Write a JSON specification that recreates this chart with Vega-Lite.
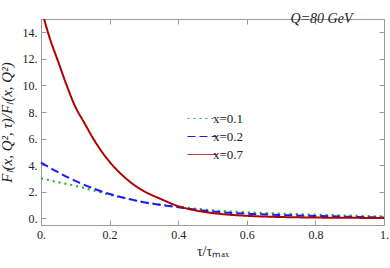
{
  "$schema": "https://vega.github.io/schema/vega-lite/v6.json",
  "autosize": "none",
  "width": 343,
  "height": 206,
  "padding": {"left": 41, "top": 19, "right": 6, "bottom": 43},
  "background": "white",
  "title": {"text": "Q=80 GeV", "anchor": "end", "orient": "top", "offset": -22, "dx": -36, "baseline": "alphabetic", "font": "Liberation Serif", "fontStyle": "italic", "fontWeight": "normal", "fontSize": 14, "color": "#222"},
  "config": {
    "view": {"stroke": null},
    "font": "Liberation Serif",
    "axis": {"grid": false, "domain": true, "domainColor": "#9a9a9a", "domainWidth": 1, "tickColor": "#9a9a9a", "tickWidth": 1, "labelColor": "#222", "labelFont": "Liberation Serif", "labelFontSize": 12, "titleFont": "Liberation Serif", "titleFontWeight": "normal", "titleColor": "#222"}
  },
  "datasets": {
    "curves": [
      {"t": 0.0, "r": 3.02, "series": "x=0.1"},
      {"t": 0.05, "r": 2.72, "series": "x=0.1"},
      {"t": 0.1, "r": 2.45, "series": "x=0.1"},
      {"t": 0.15, "r": 2.12, "series": "x=0.1"},
      {"t": 0.2, "r": 1.77, "series": "x=0.1"},
      {"t": 0.25, "r": 1.48, "series": "x=0.1"},
      {"t": 0.3, "r": 1.22, "series": "x=0.1"},
      {"t": 0.35, "r": 1.04, "series": "x=0.1"},
      {"t": 0.4, "r": 0.88, "series": "x=0.1"},
      {"t": 0.45, "r": 0.73, "series": "x=0.1"},
      {"t": 0.5, "r": 0.61, "series": "x=0.1"},
      {"t": 0.6, "r": 0.46, "series": "x=0.1"},
      {"t": 0.7, "r": 0.36, "series": "x=0.1"},
      {"t": 0.8, "r": 0.28, "series": "x=0.1"},
      {"t": 0.9, "r": 0.21, "series": "x=0.1"},
      {"t": 1.0, "r": 0.15, "series": "x=0.1"},
      {"t": 0.0, "r": 4.2, "series": "x=0.2"},
      {"t": 0.05, "r": 3.47, "series": "x=0.2"},
      {"t": 0.1, "r": 2.82, "series": "x=0.2"},
      {"t": 0.15, "r": 2.28, "series": "x=0.2"},
      {"t": 0.2, "r": 1.83, "series": "x=0.2"},
      {"t": 0.25, "r": 1.5, "series": "x=0.2"},
      {"t": 0.3, "r": 1.21, "series": "x=0.2"},
      {"t": 0.35, "r": 1.0, "series": "x=0.2"},
      {"t": 0.4, "r": 0.83, "series": "x=0.2"},
      {"t": 0.45, "r": 0.66, "series": "x=0.2"},
      {"t": 0.5, "r": 0.52, "series": "x=0.2"},
      {"t": 0.6, "r": 0.35, "series": "x=0.2"},
      {"t": 0.7, "r": 0.25, "series": "x=0.2"},
      {"t": 0.8, "r": 0.18, "series": "x=0.2"},
      {"t": 0.9, "r": 0.12, "series": "x=0.2"},
      {"t": 1.0, "r": 0.07, "series": "x=0.2"},
      {"t": 0.009, "r": 15.0, "series": "x=0.7"},
      {"t": 0.025, "r": 13.6, "series": "x=0.7"},
      {"t": 0.05, "r": 11.8, "series": "x=0.7"},
      {"t": 0.075, "r": 10.0, "series": "x=0.7"},
      {"t": 0.1, "r": 8.4, "series": "x=0.7"},
      {"t": 0.125, "r": 7.25, "series": "x=0.7"},
      {"t": 0.15, "r": 6.1, "series": "x=0.7"},
      {"t": 0.175, "r": 5.1, "series": "x=0.7"},
      {"t": 0.2, "r": 4.25, "series": "x=0.7"},
      {"t": 0.225, "r": 3.55, "series": "x=0.7"},
      {"t": 0.25, "r": 2.95, "series": "x=0.7"},
      {"t": 0.275, "r": 2.45, "series": "x=0.7"},
      {"t": 0.3, "r": 2.05, "series": "x=0.7"},
      {"t": 0.35, "r": 1.45, "series": "x=0.7"},
      {"t": 0.4, "r": 0.92, "series": "x=0.7"},
      {"t": 0.45, "r": 0.6, "series": "x=0.7"},
      {"t": 0.5, "r": 0.4, "series": "x=0.7"},
      {"t": 0.55, "r": 0.27, "series": "x=0.7"},
      {"t": 0.6, "r": 0.19, "series": "x=0.7"},
      {"t": 0.7, "r": 0.1, "series": "x=0.7"},
      {"t": 0.8, "r": 0.06, "series": "x=0.7"},
      {"t": 0.9, "r": 0.04, "series": "x=0.7"},
      {"t": 1.0, "r": 0.03, "series": "x=0.7"}
    ]
  },
  "resolve": {"axis": {"x": "independent", "y": "independent"}},
  "layer": [
    {
      "data": {"name": "curves"},
      "mark": {"type": "line", "strokeWidth": 2, "interpolate": "monotone"},
      "encoding": {
        "x": {"field": "t", "type": "quantitative", "scale": {"domain": [0, 1], "nice": false, "zero": false},
          "axis": {"orient": "bottom", "values": [0, 0.2, 0.4, 0.6, 0.8, 1], "labelExpr": "datum.value == 0 ? '0.' : datum.value == 1 ? '1.' : format(datum.value, '.1f')", "tickSize": -5, "labelPadding": 9, "title": "τ/τₘₐₓ", "titleFontSize": 14, "titlePadding": 4, "labelFlush": false}},
        "y": {"field": "r", "type": "quantitative", "scale": {"domain": [-0.5, 15], "nice": false, "zero": false},
          "axis": {"orient": "left", "values": [0, 2, 4, 6, 8, 10, 12, 14], "labelExpr": "format(datum.value, 'd') + '.'", "tickSize": -5, "labelPadding": 9, "title": "Fₗ(x, Q², τ)/Fₗ(x, Q²)", "titleFontSize": 15, "titleFontStyle": "italic", "titlePadding": 8}},
        "color": {"field": "series", "type": "nominal", "scale": {"domain": ["x=0.1", "x=0.2", "x=0.7"], "range": ["#22b022", "#1a1aff", "#b00000"]},
          "legend": {"title": null, "orient": "none", "legendX": 155, "legendY": 93, "symbolType": "M-3,0H3", "symbolSize": 100, "symbolStrokeWidth": 1, "labelFont": "Liberation Serif", "labelFontSize": 13, "labelColor": "#222", "rowPadding": 4, "labelOffset": 4, "padding": 0}},
        "strokeDash": {"field": "series", "type": "nominal", "scale": {"domain": ["x=0.1", "x=0.2", "x=0.7"], "range": [[2, 4], [8, 4], [1, 0]]}, "legend": null}
      }
    },
    {
      "mark": {"type": "rule", "color": "#a8a8a8", "strokeWidth": 1.5},
      "encoding": {"y": {"datum": 0, "type": "quantitative", "axis": null}}
    },
    {
      "data": {"name": "curves"},
      "mark": {"type": "point", "opacity": 0},
      "encoding": {
        "x": {"field": "t", "type": "quantitative", "axis": {"orient": "top", "values": [0, 0.2, 0.4, 0.6, 0.8, 1], "labels": false, "tickSize": -5, "title": null}},
        "y": {"field": "r", "type": "quantitative", "axis": {"orient": "right", "values": [0, 2, 4, 6, 8, 10, 12, 14], "labels": false, "tickSize": -5, "title": null}}
      }
    }
  ]
}
